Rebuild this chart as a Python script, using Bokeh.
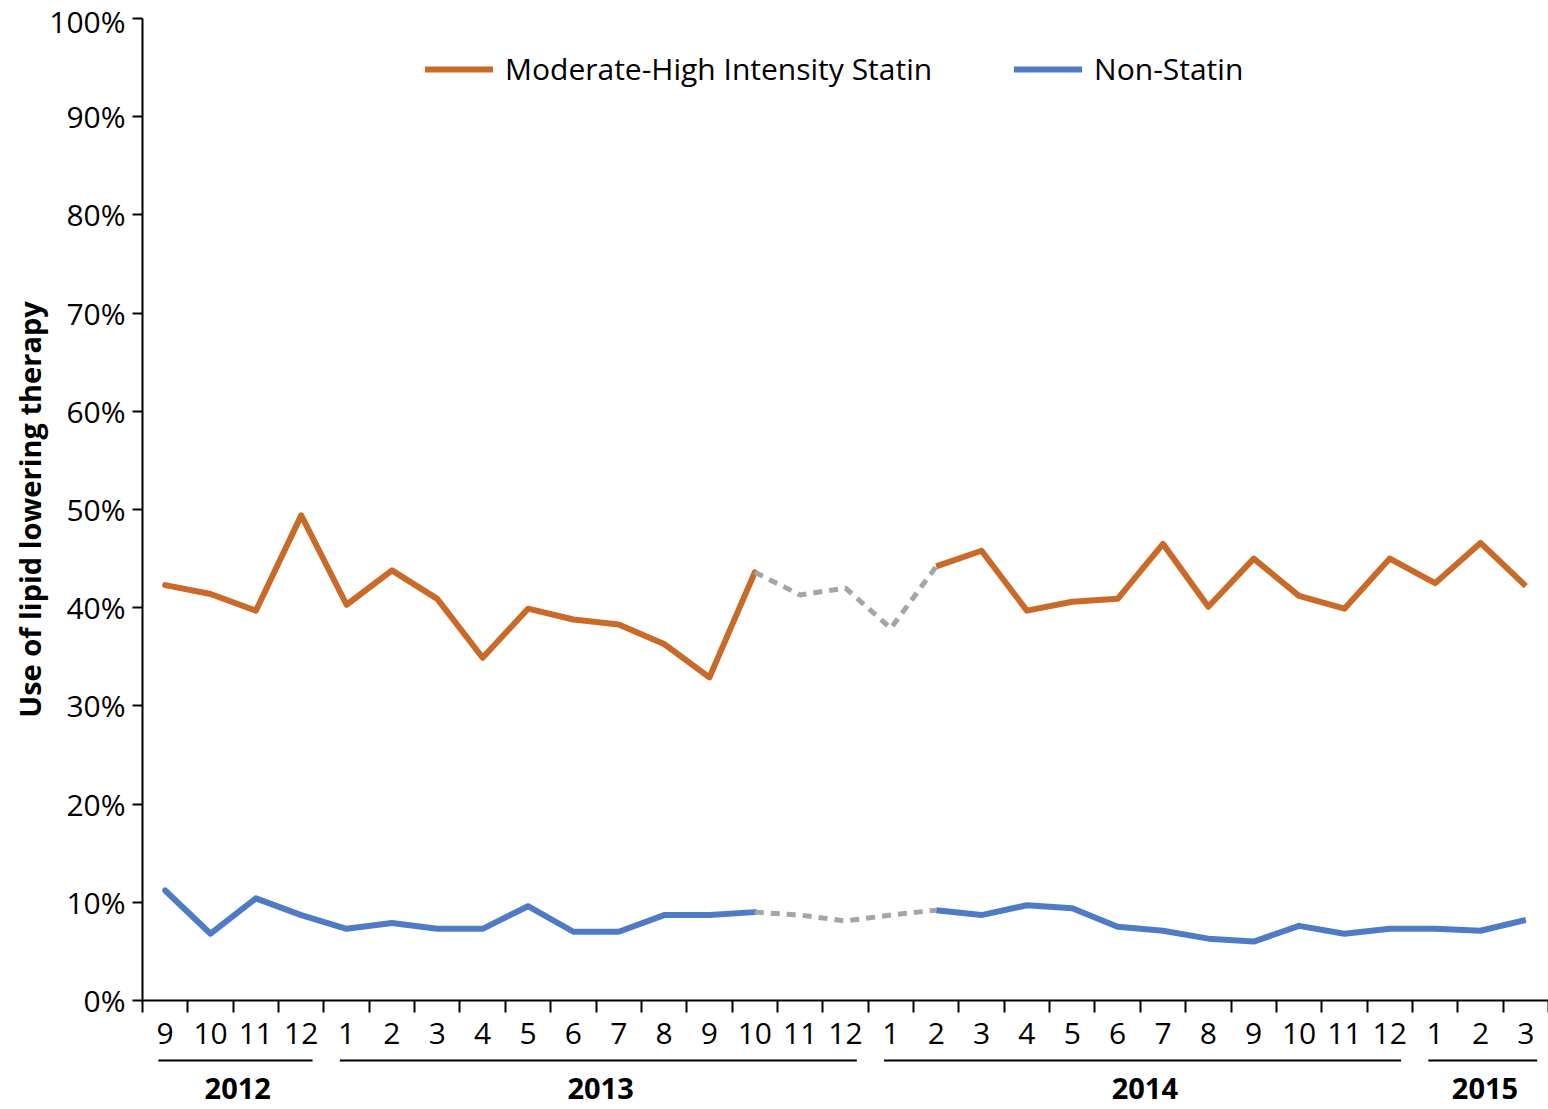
import numpy as np
from bokeh.plotting import figure
from bokeh.models import Range1d, FixedTicker, Legend, LegendItem, PrintfTickFormatter
from bokeh.core.properties import value
from bokeh.layouts import column
from bokeh.embed import file_html
from bokeh.resources import INLINE

# ---- data ----
months = ["9", "10", "11", "12",
          "1", "2", "3", "4", "5", "6", "7", "8", "9", "10", "11", "12",
          "1", "2", "3", "4", "5", "6", "7", "8", "9", "10", "11", "12",
          "1", "2", "3"]
years = ["2012"] * 4 + ["2013"] * 12 + ["2014"] * 12 + ["2015"] * 3
statin = [42.3, 41.4, 39.7, 49.4,
          40.3, 43.8, 40.9, 34.9, 39.9, 38.8, 38.3, 36.3, 32.9, 43.6, 41.3, 42.0,
          37.9, 44.2, 45.8, 39.7, 40.6, 40.9, 46.5, 40.1, 45.0, 41.2, 39.9, 45.0,
          42.5, 46.6, 42.2]
non_statin = [11.2, 6.8, 10.4, 8.7,
              7.3, 7.9, 7.3, 7.3, 9.6, 7.0, 7.0, 8.7, 8.7, 9.0, 8.7, 8.1,
              8.7, 9.2, 8.7, 9.7, 9.4, 7.5, 7.1, 6.3, 6.0, 7.6, 6.8, 7.3,
              7.3, 7.1, 8.2]
# estimated (dashed) period: 2013-10 .. 2014-2
gap_start, gap_end = 13, 17
y_ticks = list(range(0, 101, 10))

ORANGE = "#C96A28"
BLUE = "#4F7BC6"
GRAY = "#A5A5A5"
FONT = "Open Sans"

x = list(range(len(months)))
n = len(months)

p = figure(width=1548, height=1058, x_range=Range1d(-0.5, n - 0.5), y_range=Range1d(0, 100),
           output_backend="svg", toolbar_location=None, title=None,
           min_border_left=142, min_border_right=0, min_border_top=18, min_border_bottom=58)
p.outline_line_color = None
p.grid.visible = False

# y axis
ya = p.yaxis[0]
ya.ticker = FixedTicker(ticks=y_ticks)
ya.formatter = PrintfTickFormatter(format="%d%%")
ya.axis_line_width = 2
ya.major_tick_line_width = 2
ya.major_tick_out = 10
ya.major_tick_in = 0
ya.minor_tick_out = 0
ya.major_label_text_font = FONT
ya.major_label_text_font_size = "30px"
ya.major_label_text_color = "black"
ya.major_label_standoff = 7
ya.axis_label = "Use of lipid lowering therapy"
ya.axis_label_text_font = FONT
ya.axis_label_text_font_style = "bold"
ya.axis_label_text_font_size = "29px"
ya.axis_label_text_color = "black"
ya.axis_label_standoff = -3

# x axis (month labels at centers, ticks at band edges)
xa = p.xaxis[0]
xa.ticker = FixedTicker(ticks=x, minor_ticks=[i - 0.5 for i in range(n + 1)])
xa.major_label_overrides = {i: m for i, m in zip(x, months)}
xa.axis_line_width = 2
xa.major_tick_out = 0
xa.major_tick_in = 0
xa.minor_tick_out = 12
xa.minor_tick_in = 0
xa.minor_tick_line_width = 2
xa.major_label_text_font = FONT
xa.major_label_text_font_size = "30px"
xa.major_label_text_color = "black"
xa.major_label_standoff = 10

# lines
xs = np.array(x)
s = np.array(statin)
ns = np.array(non_statin)
LW = 6
r_or = p.line(xs[:gap_start + 1], s[:gap_start + 1], line_color=ORANGE, line_width=LW, line_join="round", line_cap="round")
p.line(xs[gap_end:], s[gap_end:], line_color=ORANGE, line_width=LW, line_join="round")
p.line(xs[gap_start:gap_end + 1], s[gap_start:gap_end + 1], line_color=GRAY, line_width=5, line_dash="9 7")
r_bl = p.line(xs[:gap_start + 1], ns[:gap_start + 1], line_color=BLUE, line_width=LW, line_join="round", line_cap="round")
p.line(xs[gap_end:], ns[gap_end:], line_color=BLUE, line_width=LW, line_join="round")
p.line(xs[gap_start:gap_end + 1], ns[gap_start:gap_end + 1], line_color=GRAY, line_width=5, line_dash="9 7")

legend = Legend(items=[LegendItem(label="Moderate-High Intensity Statin", renderers=[r_or]),
                       LegendItem(label="Non-Statin", renderers=[r_bl])],
                orientation="horizontal", location=(283, 911),
                glyph_width=68, glyph_height=30, label_height=30, label_standoff=12, spacing=82,
                padding=0, margin=0, border_line_color=None, background_fill_alpha=0,
                label_text_font=FONT, label_text_font_size="30px", label_text_color="black")
p.add_layout(legend, "center")

# year band below
year_names = []
for yv in years:
    if yv not in year_names:
        year_names.append(yv)
first = [years.index(yv) for yv in year_names]
last = [len(years) - 1 - years[::-1].index(yv) for yv in year_names]
centers = [(a + b) / 2 + 0.1 for a, b in zip(first, last)]

H2 = 1109 - 1058
p2 = figure(width=1548, height=H2, x_range=p.x_range, y_range=Range1d(H2, 0),
            output_backend="svg", toolbar_location=None, title=None,
            min_border_left=142, min_border_right=0, min_border_top=0, min_border_bottom=0)
p2.outline_line_color = None
p2.grid.visible = False
p2.axis.visible = False
p2.segment(x0=[a - 0.15 for a in first], x1=[b + 0.25 for b in last], y0=2, y1=2,
           line_color="black", line_width=2)
p2.text(x=centers, y=[30] * len(centers), text=year_names,
        text_font=value(FONT), text_font_style="bold", text_font_size="29px",
        text_color="black", text_align="center", text_baseline="middle")

layout = column(p, p2, spacing=0)
open("out.html", "w").write(file_html(layout, INLINE))
